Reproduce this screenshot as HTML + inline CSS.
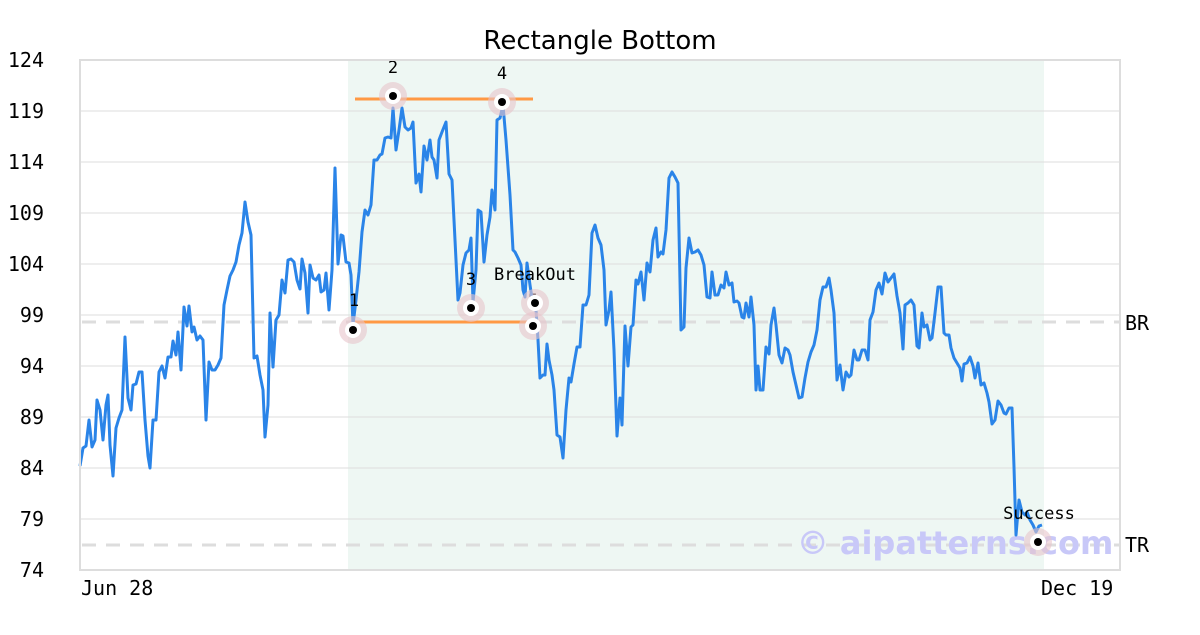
<!DOCTYPE html>
<html><head><meta charset="utf-8"><style>
body{margin:0;background:#fff;}
svg text{font-family:"DejaVu Sans Mono","Liberation Mono",monospace;}
</style></head><body>
<svg width="1200" height="630" viewBox="0 0 1200 630" xmlns="http://www.w3.org/2000/svg">
<rect width="1200" height="630" fill="#fff"/>
<rect x="348" y="61" width="696" height="509" fill="#eef7f3"/>
<g stroke="#dddddd" stroke-width="1">
<line x1="80" x2="1120" y1="111" y2="111"/><line x1="80" x2="1120" y1="162" y2="162"/>
<line x1="80" x2="1120" y1="213" y2="213"/><line x1="80" x2="1120" y1="264" y2="264"/>
<line x1="80" x2="1120" y1="315" y2="315"/><line x1="80" x2="1120" y1="366" y2="366"/>
<line x1="80" x2="1120" y1="417" y2="417"/><line x1="80" x2="1120" y1="468" y2="468"/>
<line x1="80" x2="1120" y1="519" y2="519"/>
</g>
<g stroke="#dddddd" stroke-width="3" stroke-dasharray="14,10">
<line x1="82" x2="1120" y1="322" y2="322"/><line x1="82" x2="1120" y1="545" y2="545"/>
</g>
<text x="955" y="554" font-size="32" font-weight="bold" fill="#c8c8f8" text-anchor="middle" style="font-family:'DejaVu Sans',sans-serif">© aipatterns.com</text>
<g stroke="#ff9944" stroke-width="3">
<line x1="355" x2="533" y1="99" y2="99"/><line x1="355" x2="533" y1="322" y2="322"/>
</g>
<text x="533" y="306" font-size="17" text-anchor="middle" fill="#000">5</text>
<polyline fill="none" stroke="#2a84e8" stroke-width="3" stroke-linejoin="round" points="80,466 83,448 86,446 89,420 92,447 95,440 97,400 100,410 103,440 106,405 108,395 110,445 113,476 116,428 119,418 122,410 125,337 128,398 131,410 133,385 136,384 139,372 142,372 145,420 148,456 150,468 153,420 156,420 159,372 162,366 165,378 168,357 171,357 173,341 176,355 178,332 181,370 184,307 187,326 189,306 192,332 194,327 197,340 200,336 203,340 206,420 209,362 212,370 215,370 218,365 221,358 224,305 227,290 230,276 233,270 236,262 239,245 242,233 245,202 248,222 251,235 254,358 257,356 260,375 263,390 265,437 268,405 270,313 273,367 276,320 279,315 282,280 285,293 288,260 291,259 294,262 297,280 300,289 302,259 305,273 308,313 310,265 313,278 316,280 319,275 321,292 324,290 326,273 329,310 332,270 335,168 338,264 341,235 343,236 346,262 349,263 351,275 353,325 356,300 359,272 362,232 365,210 368,215 371,205 374,160 377,160 380,155 382,154 385,138 388,137 391,138 393,108 396,150 399,130 402,108 405,127 408,130 411,128 413,122 416,183 419,174 421,192 424,146 427,160 430,140 432,157 434,160 437,178 439,140 442,132 446,122 449,174 452,180 455,240 458,300 460,293 463,265 466,253 469,250 471,238 473,302 476,270 478,210 481,212 484,262 487,235 490,217 492,190 495,210 497,120 500,118 503,105 506,140 510,195 513,250 515,252 518,258 521,265 523,290 525,297 527,263 530,285 533,305 536,310 538,340 540,378 543,375 545,375 547,344 549,360 552,375 554,390 557,435 560,437 563,458 566,410 569,378 571,382 574,364 577,347 580,347 583,305 586,305 589,295 592,233 595,225 598,238 601,245 604,270 606,325 609,310 611,292 614,350 617,436 620,398 622,425 625,326 628,366 631,327 633,325 636,280 638,284 641,272 644,300 647,263 650,272 653,240 656,228 658,257 661,252 663,254 666,230 669,178 672,172 675,177 678,183 681,330 684,327 686,268 689,238 692,253 695,252 698,250 701,255 704,265 707,297 710,298 712,272 715,295 718,295 721,285 724,288 726,272 729,285 732,283 734,302 737,301 739,303 742,317 744,318 746,303 749,317 751,297 754,325 756,390 758,366 760,390 763,390 766,347 769,354 771,325 774,308 776,325 779,355 782,363 785,348 788,350 790,355 793,372 796,385 799,398 802,397 805,378 808,362 811,352 814,345 817,330 820,300 823,287 826,287 829,278 831,290 834,313 837,380 840,365 843,390 846,372 849,377 851,375 854,350 857,360 859,360 862,350 865,350 868,360 870,320 873,312 876,290 879,283 882,294 885,273 888,282 891,278 894,274 897,296 900,313 903,349 905,305 908,303 911,300 914,305 917,346 919,348 922,313 924,327 927,325 930,340 932,338 935,313 938,287 941,287 944,333 946,335 949,335 951,348 954,358 957,363 960,368 962,381 964,364 967,363 970,357 973,366 975,378 978,363 981,385 984,383 987,393 989,402 992,424 995,420 998,401 1001,405 1004,413 1006,414 1009,408 1012,408 1014,467 1016,535 1019,500 1022,512 1025,515 1027,512 1030,520 1033,525 1036,532 1039,526 1042,525"/>
<g>
<g fill="#e8c4cc" fill-opacity="0.6">
<circle cx="353" cy="330" r="14"/><circle cx="393" cy="96" r="14"/><circle cx="471" cy="308" r="14"/>
<circle cx="502" cy="102" r="14"/><circle cx="535" cy="303" r="14"/><circle cx="533" cy="326" r="14"/><circle cx="1038" cy="542" r="14"/>
</g>
<g fill="#fff">
<circle cx="353" cy="330" r="8"/><circle cx="393" cy="96" r="8"/><circle cx="471" cy="308" r="8"/>
<circle cx="502" cy="102" r="8"/><circle cx="535" cy="303" r="8"/><circle cx="533" cy="326" r="8"/><circle cx="1038" cy="542" r="8"/>
</g>
<g fill="#000">
<circle cx="353" cy="330" r="4"/><circle cx="393" cy="96" r="4"/><circle cx="471" cy="308" r="4"/>
<circle cx="502" cy="102" r="4"/><circle cx="535" cy="303" r="4"/><circle cx="533" cy="326" r="4"/><circle cx="1038" cy="542" r="4"/>
</g>
</g>
<g font-size="17" fill="#000" text-anchor="middle">
<text x="354" y="306">1</text><text x="393" y="73">2</text><text x="471" y="285">3</text><text x="502" y="79">4</text>
<text x="535" y="280">BreakOut</text><text x="1039" y="519">Success</text>
</g>
<rect x="80" y="60" width="1040" height="510" fill="none" stroke="#dddddd" stroke-width="2"/>
<g font-size="20" fill="#000" text-anchor="end">
<text x="44" y="67">124</text><text x="44" y="118">119</text><text x="44" y="169">114</text>
<text x="44" y="220">109</text><text x="44" y="271">104</text><text x="44" y="322">99</text>
<text x="44" y="373">94</text><text x="44" y="424">89</text><text x="44" y="475">84</text>
<text x="44" y="526">79</text><text x="44" y="577">74</text>
</g>
<g font-size="20" fill="#000">
<text x="1125" y="330">BR</text><text x="1125" y="552">TR</text>
<text x="81" y="595">Jun 28</text><text x="1041" y="595">Dec 19</text>
</g>
<text x="600" y="49" font-size="26" text-anchor="middle" fill="#000" style="font-family:'DejaVu Sans','Liberation Sans',sans-serif">Rectangle Bottom</text>
</svg>
</body></html>
